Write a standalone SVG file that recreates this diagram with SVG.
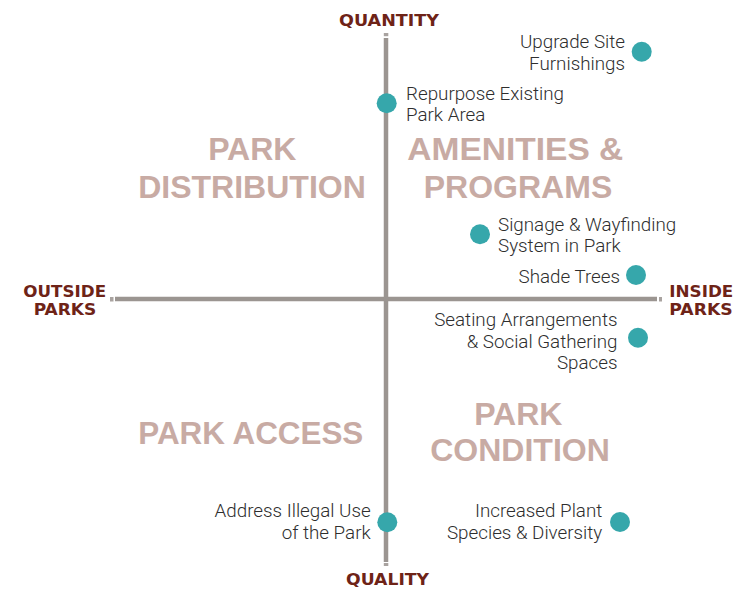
<svg xmlns="http://www.w3.org/2000/svg" width="750" height="589" viewBox="0 0 750 589">
<style>
.axis{stroke:#9b9591;stroke-width:4.5;fill:none}
.cap{fill:#a9a3a0}
.ax{font-family:"DejaVu Sans","Liberation Sans",sans-serif;font-weight:bold;font-size:15px;fill:#6e2317}
.q{font-family:"Liberation Sans",Arial,sans-serif;font-weight:bold;font-size:32px;fill:#c8aba4;text-anchor:middle}
.t{font-family:Roboto,"Liberation Sans",sans-serif;font-weight:300;font-size:18.8px;fill:#2e2e2e}
.r{text-anchor:end}
.dot{fill:#36a7ab}
</style>
<rect width="750" height="589" fill="#ffffff"/>
<g id="axes">
<line class="axis" x1="115" y1="299" x2="657" y2="299"/>
<rect class="cap" x="110" y="297" width="3.5" height="4.5"/>
<rect class="cap" x="659" y="297" width="3" height="4.5"/>
<line class="axis" x1="386" y1="38" x2="386" y2="562"/>
<rect class="cap" x="383.8" y="33" width="4.5" height="3.2"/>
<rect class="cap" x="383.8" y="563" width="4.5" height="3"/>
</g>
<g id="axis-labels">
<text class="ax" x="389" y="26" text-anchor="middle" textLength="100" lengthAdjust="spacingAndGlyphs">QUANTITY</text>
<text class="ax" x="387.5" y="585.3" text-anchor="middle" textLength="83" lengthAdjust="spacingAndGlyphs">QUALITY</text>
<text class="ax" x="64.7" y="296.8" text-anchor="middle" textLength="82.7" lengthAdjust="spacingAndGlyphs">OUTSIDE</text>
<text class="ax" x="65" y="314.5" text-anchor="middle" textLength="62.6" lengthAdjust="spacingAndGlyphs">PARKS</text>
<text class="ax" x="669.3" y="296.8" textLength="64" lengthAdjust="spacingAndGlyphs">INSIDE</text>
<text class="ax" x="669.3" y="314.5" textLength="63.4" lengthAdjust="spacingAndGlyphs">PARKS</text>
</g>
<g id="quadrant-labels">
<text class="q" x="252.3" y="160">PARK</text>
<text class="q" x="252" y="198.3">DISTRIBUTION</text>
<text class="q" x="515.3" y="160" textLength="216" lengthAdjust="spacingAndGlyphs">AMENITIES &amp;</text>
<text class="q" x="518" y="198.3">PROGRAMS</text>
<text class="q" x="250.8" y="444" textLength="225" lengthAdjust="spacingAndGlyphs">PARK ACCESS</text>
<text class="q" x="518.3" y="425">PARK</text>
<text class="q" x="520" y="461">CONDITION</text>
</g>
<g id="upgrade-site-furnishings">
<circle class="dot" cx="641.7" cy="51.7" r="10"/>
<text class="t r" x="625" y="48.3">Upgrade Site</text>
<text class="t r" x="625" y="70">Furnishings</text>
</g>
<g id="repurpose-existing-park-area">
<circle class="dot" cx="386.7" cy="103.3" r="10"/>
<text class="t" x="406" y="100">Repurpose Existing</text>
<text class="t" x="406" y="121">Park Area</text>
</g>
<g id="signage-wayfinding">
<circle class="dot" cx="480" cy="234.3" r="10"/>
<text class="t" x="498" y="230.7">Signage &amp; Wayfinding</text>
<text class="t" x="498" y="252">System in Park</text>
</g>
<g id="shade-trees">
<circle class="dot" cx="636" cy="275" r="10"/>
<text class="t r" x="620" y="282.7">Shade Trees</text>
</g>
<g id="seating-arrangements">
<circle class="dot" cx="638" cy="337.7" r="10"/>
<text class="t r" x="617.5" y="326">Seating Arrangements</text>
<text class="t r" x="617.5" y="347.7">&amp; Social Gathering</text>
<text class="t r" x="617.5" y="369.3">Spaces</text>
</g>
<g id="address-illegal-use">
<circle class="dot" cx="387.3" cy="522.3" r="10"/>
<text class="t r" x="370.7" y="517.3">Address Illegal Use</text>
<text class="t r" x="370.7" y="539.3">of the Park</text>
</g>
<g id="increased-plant-species">
<circle class="dot" cx="620" cy="522" r="10"/>
<text class="t r" x="602.3" y="517.3">Increased Plant</text>
<text class="t r" x="602.3" y="539.3">Species &amp; Diversity</text>
</g>
</svg>
